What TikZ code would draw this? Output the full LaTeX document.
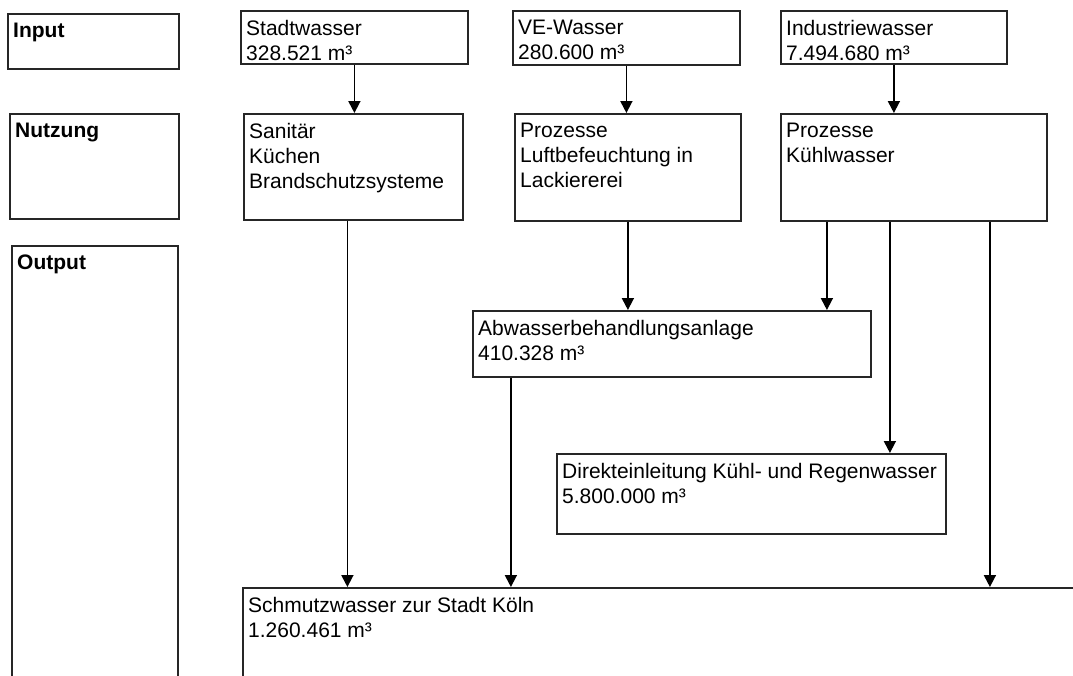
\documentclass[tikz,border=0pt]{standalone}
\usepackage{fontspec}
\setmainfont{Liberation Sans}
\usepackage{tikz}
\usetikzlibrary{arrows.meta}
\definecolor{dgrey}{RGB}{38,38,38}

\begin{document}
\begin{tikzpicture}[
  x=1pt,y=-1pt,
  wbox/.style={rectangle,draw=dgrey,line width=1.8pt,anchor=north west,inner sep=0pt},
  wtxt/.style={anchor=north west,align=left,inner xsep=6pt,inner ysep=10pt,font=\fontsize{21}{25}\selectfont},
  htxt/.style={wtxt,font=\fontsize{21}{25}\selectfont\bfseries},
  arrow/.style={-{Triangle[width=12pt,length=12pt]},line width=1.8pt,black}
]
  \useasboundingbox (0,0) rectangle (1073,675);
  \clip (0,0) rectangle (1073,675);

  % Rows
  \node[wbox,minimum width=171pt,minimum height=55pt,label={[htxt]north west:Input}] (input) at (7,13) {};
  \node[wbox,minimum width=169pt,minimum height=105pt,label={[htxt]north west:Nutzung}] (nutzung) at (9,113) {};
  \node[wbox,minimum width=166pt,minimum height=500pt,label={[htxt]north west:Output}] (output) at (11,245) {};

  % Input
  \node[wbox,minimum width=227pt,minimum height=53pt,label={[wtxt]north west:{Stadtwasser\\328.521 m³}}] (stadt) at (240,10) {};
  \node[wbox,minimum width=227pt,minimum height=54pt,label={[wtxt]north west:{VE-Wasser\\280.600 m³}}] (vewasser) at (512,10) {};
  \node[wbox,minimum width=226pt,minimum height=53pt,label={[wtxt]north west:{Industriewasser\\7.494.680 m³}}] (indwasser) at (780,10) {};

  % Nutzung
  \node[wbox,minimum width=219pt,minimum height=106pt,label={[wtxt]north west:{Sanitär\\Küchen\\Brandschutzsysteme}}] (sanitaer) at (243,113) {};
  \node[wbox,minimum width=226pt,minimum height=107pt,label={[wtxt]north west:{Prozesse\\Luftbefeuchtung in\\Lackiererei}}] (prozve) at (514,113) {};
  \node[wbox,minimum width=266pt,minimum height=107pt,label={[wtxt]north west:{Prozesse\\Kühlwasser}}] (prozind) at (780,113) {};

  % Output
  \node[wbox,minimum width=398pt,minimum height=66pt,label={[wtxt]north west:{Abwasserbehandlungsanlage\\410.328 m³}}] (abwasser) at (472,310) {};
  \node[wbox,minimum width=389pt,minimum height=80pt,label={[wtxt]north west:{Direkteinleitung Kühl- und Regenwasser\\5.800.000 m³}}] (direkt) at (556,453) {};
  \node[wbox,minimum width=900pt,minimum height=200pt,label={[wtxt]north west:{Schmutzwasser zur Stadt Köln\\1.260.461 m³}}] (schmutz) at (242,587) {};

  % Arrows
  \draw[arrow] (stadt.south) -- (stadt.south |- sanitaer.north);
  \draw[arrow] (vewasser.south) -- (vewasser.south |- prozve.north);
  \draw[arrow] (indwasser.south) -- (indwasser.south |- prozind.north);
  \draw[arrow] ([xshift=-6pt]sanitaer.south) -- ([xshift=-6pt]sanitaer.south |- schmutz.north);
  \draw[arrow] (prozve.south) -- (prozve.south |- abwasser.north);
  \draw[arrow] ([xshift=-87pt]prozind.south) -- ([xshift=-87pt]prozind.south |- abwasser.north);
  \draw[arrow] ([xshift=-24pt]prozind.south) -- ([xshift=-24pt]prozind.south |- direkt.north);
  \draw[arrow] ([xshift=76pt]prozind.south) -- ([xshift=76pt]prozind.south |- schmutz.north);
  \draw[arrow] ([xshift=-161pt]abwasser.south) -- ([xshift=-161pt]abwasser.south |- schmutz.north);
\end{tikzpicture}
\end{document}
